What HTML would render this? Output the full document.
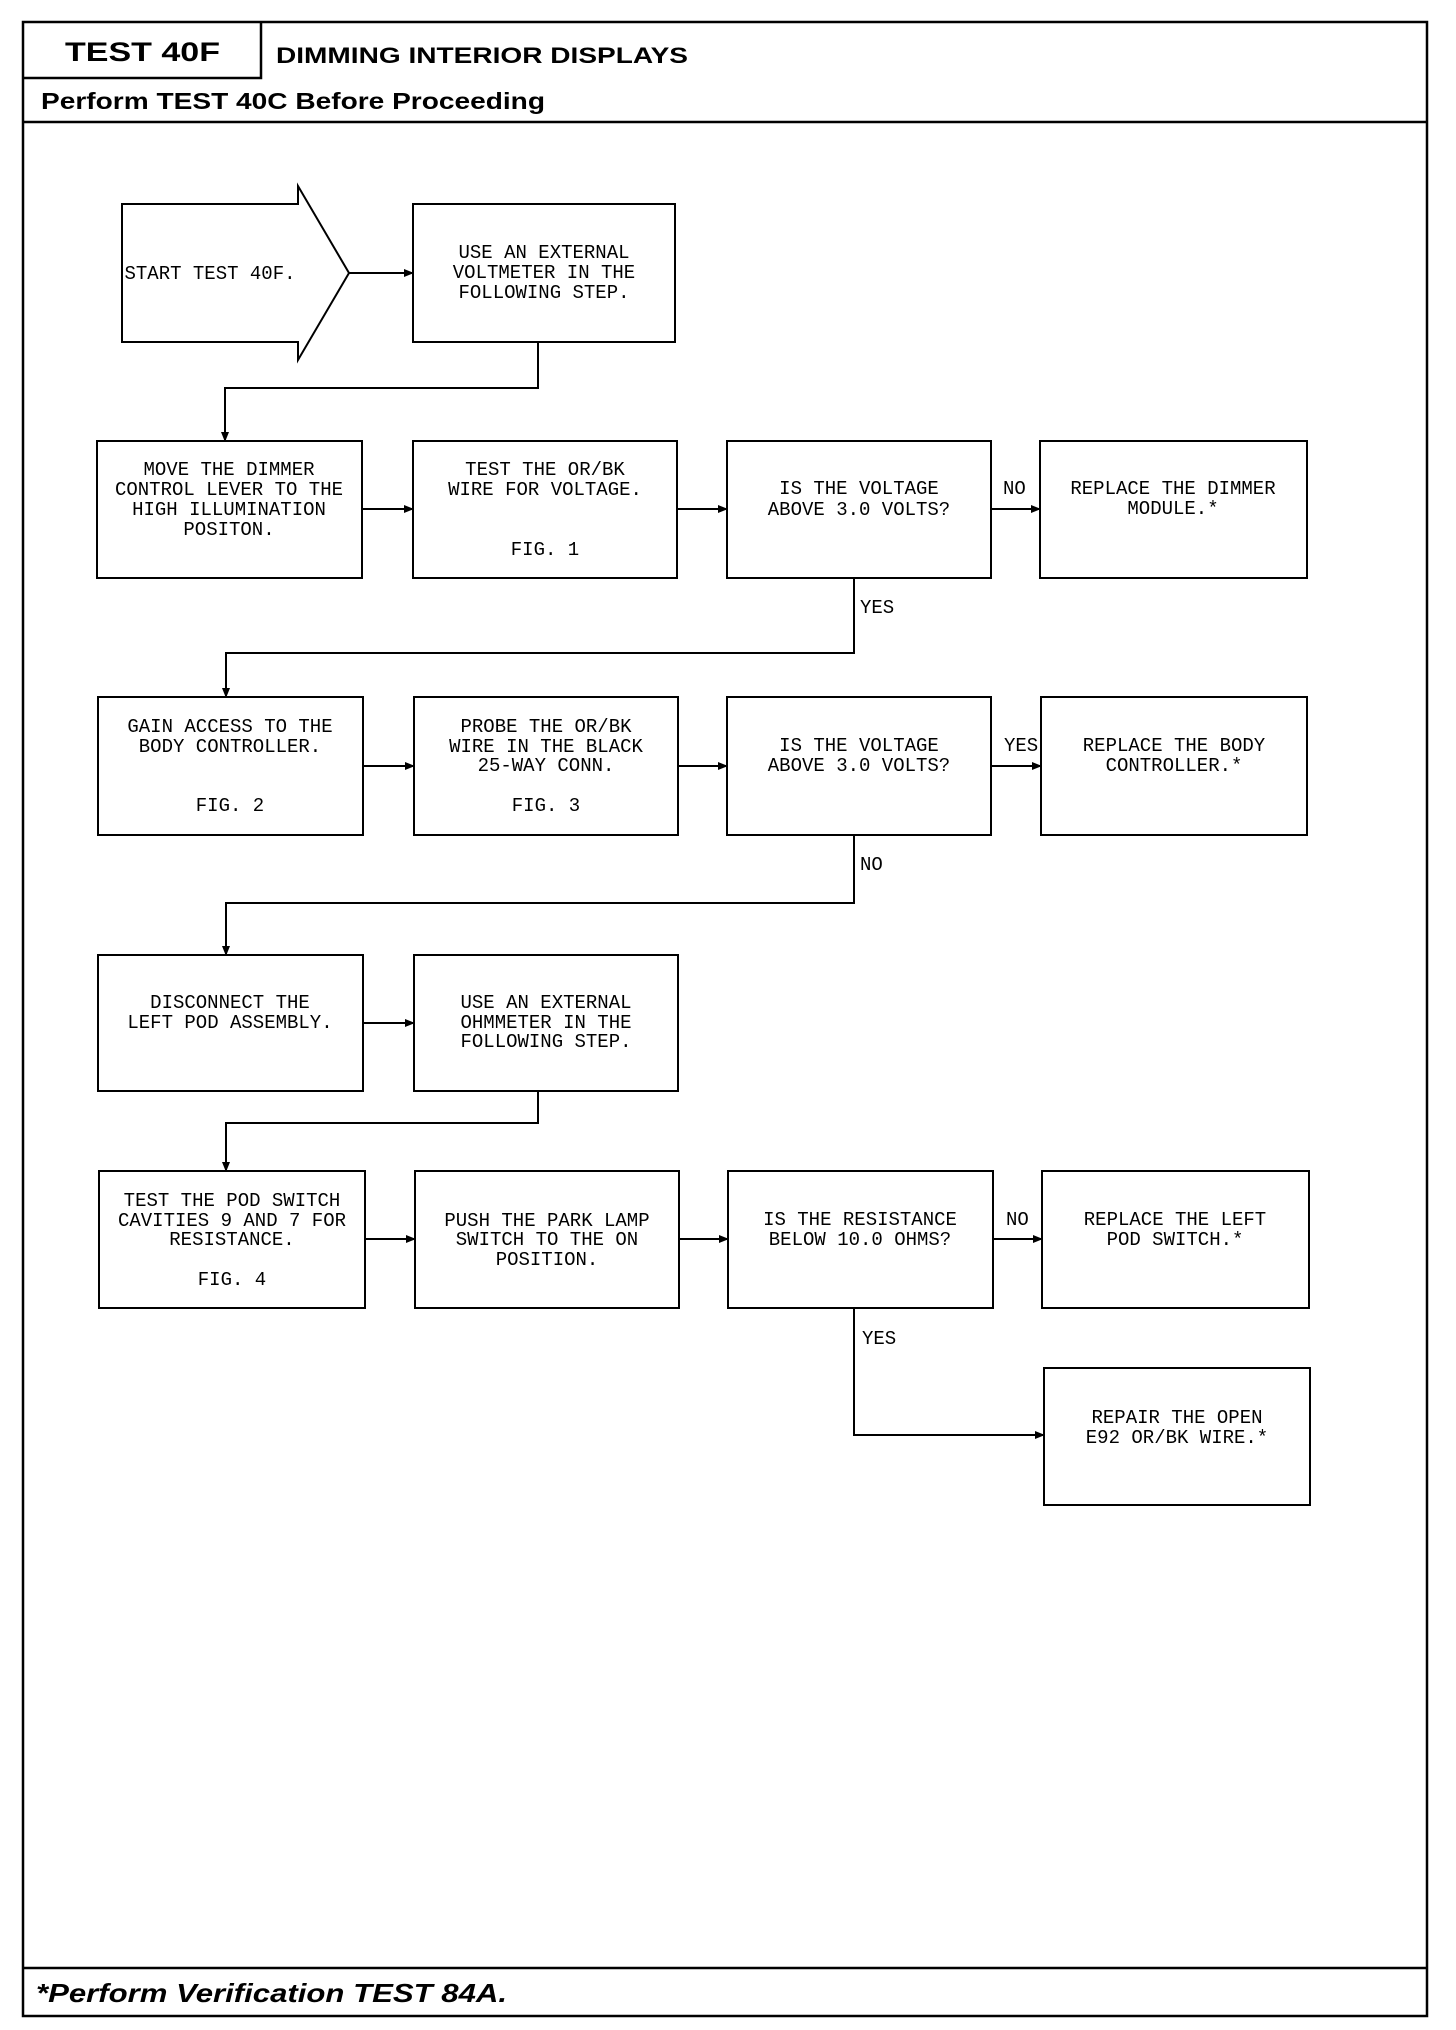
<!DOCTYPE html>
<html><head><meta charset="utf-8"><style>
html,body{margin:0;padding:0;background:#fff;}
svg{display:block;}
.t{font-family:"Liberation Mono",monospace;font-size:19px;fill:#000;text-anchor:middle;}
.l{font-family:"Liberation Mono",monospace;font-size:19px;fill:#000;}
.h{font-family:"Liberation Sans",sans-serif;font-weight:bold;fill:#000;}
</style></head><body>
<svg width="1456" height="2030" viewBox="0 0 1456 2030" xmlns="http://www.w3.org/2000/svg">
<defs><marker id="a" markerWidth="10" markerHeight="8" refX="9" refY="4" orient="auto" markerUnits="userSpaceOnUse"><path d="M0,0 L10,4 L0,8 z" fill="#000"/></marker></defs>
<g fill="none" stroke="#000" stroke-width="2.5">
<rect x="23" y="22" width="1404" height="1994"/>
<path d="M23 78 H261 V22"/>
<line x1="23" y1="122" x2="1427" y2="122"/>
<line x1="23" y1="1968" x2="1427" y2="1968"/>
</g>
<text class="h" x="65" y="61" font-size="27" textLength="155" lengthAdjust="spacingAndGlyphs">TEST 40F</text>
<text class="h" x="276" y="63" font-size="22" textLength="412" lengthAdjust="spacingAndGlyphs">DIMMING INTERIOR DISPLAYS</text>
<text class="h" x="41" y="109" font-size="23" textLength="504" lengthAdjust="spacingAndGlyphs">Perform TEST 40C Before Proceeding</text>
<text class="h" x="36" y="2002" font-size="26" font-style="italic" textLength="471" lengthAdjust="spacingAndGlyphs">*Perform Verification TEST 84A.</text>

<g fill="none" stroke="#000" stroke-width="2">
<path d="M122 204 H298 V186 L349 273 L298 360 V342 H122 Z"/>
<rect x="413" y="204" width="262" height="138"/>
<rect x="97" y="441" width="265" height="137"/>
<rect x="413" y="441" width="264" height="137"/>
<rect x="727" y="441" width="264" height="137"/>
<rect x="1040" y="441" width="267" height="137"/>
<rect x="98" y="697" width="265" height="138"/>
<rect x="414" y="697" width="264" height="138"/>
<rect x="727" y="697" width="264" height="138"/>
<rect x="1041" y="697" width="266" height="138"/>
<rect x="98" y="955" width="265" height="136"/>
<rect x="414" y="955" width="264" height="136"/>
<rect x="99" y="1171" width="266" height="137"/>
<rect x="415" y="1171" width="264" height="137"/>
<rect x="728" y="1171" width="265" height="137"/>
<rect x="1042" y="1171" width="267" height="137"/>
<rect x="1044" y="1368" width="266" height="137"/>
</g>
<g fill="none" stroke="#000" stroke-width="2" marker-end="url(#a)">
<path d="M349 273 H413"/>
<path d="M538 342 V388 H225 V441"/>
<path d="M362 509 H413"/>
<path d="M677 509 H727"/>
<path d="M991 509 H1040"/>
<path d="M854 578 V653 H226 V697"/>
<path d="M363 766 H414"/>
<path d="M678 766 H727"/>
<path d="M991 766 H1041"/>
<path d="M854 835 V903 H226 V955"/>
<path d="M363 1023 H414"/>
<path d="M538 1091 V1123 H226 V1171"/>
<path d="M365 1239 H415"/>
<path d="M679 1239 H728"/>
<path d="M993 1239 H1042"/>
<path d="M854 1308 V1435 H1044"/>
</g>

<text class="t" x="210" y="279">START TEST 40F.</text>
<text class="t" x="544" y="258">USE AN EXTERNAL</text>
<text class="t" x="544" y="278">VOLTMETER IN THE</text>
<text class="t" x="544" y="298">FOLLOWING STEP.</text>

<text class="t" x="229" y="475">MOVE THE DIMMER</text>
<text class="t" x="229" y="495">CONTROL LEVER TO THE</text>
<text class="t" x="229" y="515">HIGH ILLUMINATION</text>
<text class="t" x="229" y="535">POSITON.</text>
<text class="t" x="545" y="475">TEST THE OR/BK</text>
<text class="t" x="545" y="495">WIRE FOR VOLTAGE.</text>
<text class="t" x="545" y="555">FIG. 1</text>
<text class="t" x="859" y="494">IS THE VOLTAGE</text>
<text class="t" x="859" y="515">ABOVE 3.0 VOLTS?</text>
<text class="t" x="1173" y="494">REPLACE THE DIMMER</text>
<text class="t" x="1173" y="514">MODULE.*</text>
<text class="l" x="1003" y="494">NO</text>
<text class="l" x="860" y="613">YES</text>

<text class="t" x="230" y="732">GAIN ACCESS TO THE</text>
<text class="t" x="230" y="752">BODY CONTROLLER.</text>
<text class="t" x="230" y="811">FIG. 2</text>
<text class="t" x="546" y="732">PROBE THE OR/BK</text>
<text class="t" x="546" y="752">WIRE IN THE BLACK</text>
<text class="t" x="546" y="771">25-WAY CONN.</text>
<text class="t" x="546" y="811">FIG. 3</text>
<text class="t" x="859" y="751">IS THE VOLTAGE</text>
<text class="t" x="859" y="771">ABOVE 3.0 VOLTS?</text>
<text class="t" x="1174" y="751">REPLACE THE BODY</text>
<text class="t" x="1174" y="771">CONTROLLER.*</text>
<text class="l" x="1004" y="751">YES</text>
<text class="l" x="860" y="870">NO</text>

<text class="t" x="230" y="1008">DISCONNECT THE</text>
<text class="t" x="230" y="1028">LEFT POD ASSEMBLY.</text>
<text class="t" x="546" y="1008">USE AN EXTERNAL</text>
<text class="t" x="546" y="1028">OHMMETER IN THE</text>
<text class="t" x="546" y="1047">FOLLOWING STEP.</text>

<text class="t" x="232" y="1206">TEST THE POD SWITCH</text>
<text class="t" x="232" y="1226">CAVITIES 9 AND 7 FOR</text>
<text class="t" x="232" y="1245">RESISTANCE.</text>
<text class="t" x="232" y="1285">FIG. 4</text>
<text class="t" x="547" y="1226">PUSH THE PARK LAMP</text>
<text class="t" x="547" y="1245">SWITCH TO THE ON</text>
<text class="t" x="547" y="1265">POSITION.</text>
<text class="t" x="860" y="1225">IS THE RESISTANCE</text>
<text class="t" x="860" y="1245">BELOW 10.0 OHMS?</text>
<text class="t" x="1175" y="1225">REPLACE THE LEFT</text>
<text class="t" x="1175" y="1245">POD SWITCH.*</text>
<text class="l" x="1006" y="1225">NO</text>
<text class="l" x="862" y="1344">YES</text>

<text class="t" x="1177" y="1423">REPAIR THE OPEN</text>
<text class="t" x="1177" y="1443">E92 OR/BK WIRE.*</text>
</svg>
</body></html>
